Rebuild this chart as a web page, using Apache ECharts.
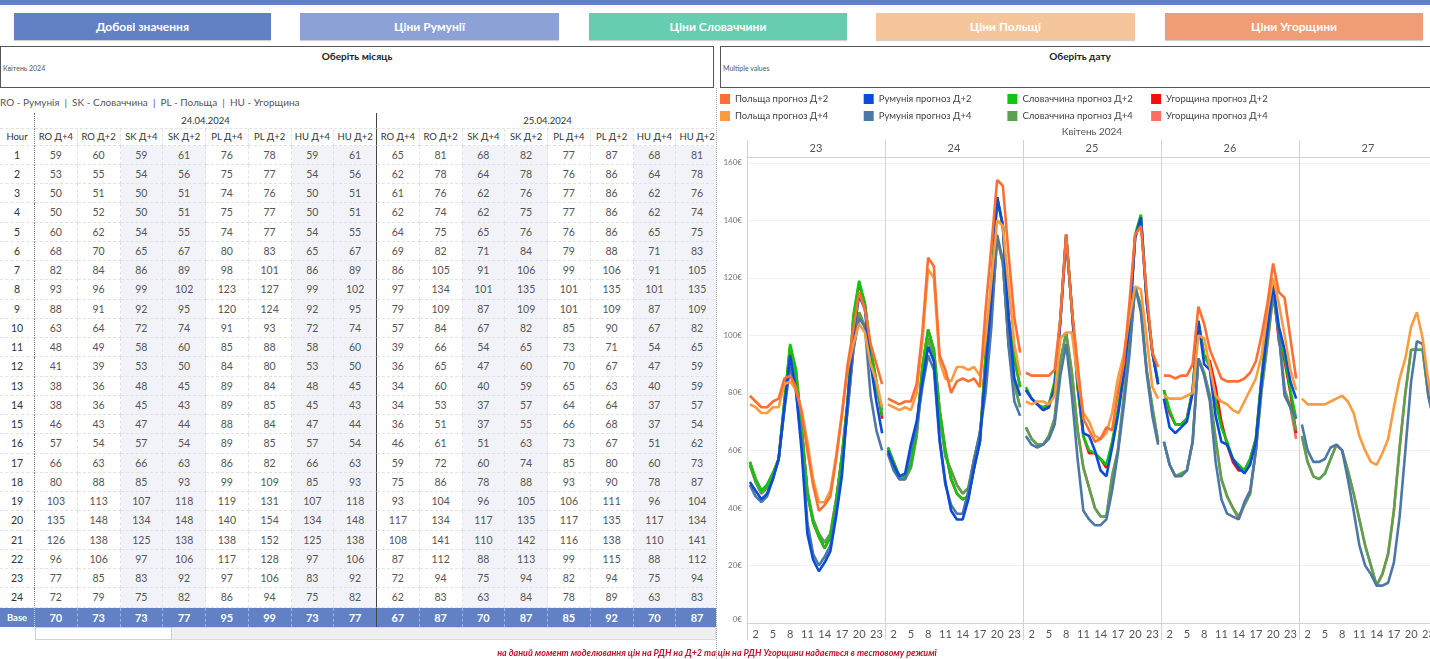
<!DOCTYPE html>
<html lang="uk">
<head>
<meta charset="utf-8">
<title>Прогноз цін РДН</title>
<script src="https://cdn.jsdelivr.net/npm/echarts@6/dist/echarts.min.js"></script>
<style>
  html, body { margin: 0; padding: 0; }
  body { width: 1430px; height: 659px; overflow: hidden; position: relative; background: #fff;
         font-family: Lato, 'Noto Sans', sans-serif; }
  .abs { position: absolute; }
  .topbar { left: 0; top: 0; width: 1430px; height: 5px; background: #6280C4; }
  .btn { top: 13px; height: 27px; line-height: 27px; color: #fff; font-size: 12px; font-weight: 700;
         text-align: center; box-shadow: 0 1px 1px rgba(0,0,0,.18); }
  .filter { top: 46px; height: 42px; border: 1.5px solid #555; box-sizing: border-box; }
  .filter .ttl { position: absolute; left: 0; right: 0; top: 3px; text-align: center; font-size: 10px; font-weight: 700; color: #222; }
  .filter .val { position: absolute; left: 2px; top: 17px; font-size: 7px; color: #555; }
  .abbr { left: 0; top: 96px; font-size: 10px; color: #555; white-space: nowrap; }
  #tbl { left: 0; top: 113px; width: 716px; height: 530px; overflow: hidden; }
  #tbl .c { position: absolute; box-sizing: border-box; display: flex; align-items: center; justify-content: center;
            border-right: 1px dashed #e2e2e2; border-bottom: 1px dashed #e2e2e2; font-size: 10.5px; color: #555; white-space: nowrap; }
  #tbl .hd { color: #333; font-size: 9.5px; }
  #tbl .hr { border-right: 1px dotted #777; color: #333; }
  #tbl .sh { background: #F2F3F9; }
  #tbl .sep { border-right: 1.5px solid #444; }
  #tbl .base { background: #6280C4; color: #fff; font-weight: 700; font-size: 11px; border-right: 1px dashed #9fb1dd; border-bottom: none; }
  #tbl .base.hr { font-size: 9.5px; border-right: 1px dotted #ccd6ee; }
  #tbl .base.sep { border-right: 1.5px solid #444; }
  .track { left: 35px; top: 627px; width: 681px; height: 13px; background: #efefef; border: 1px solid #dadada; box-sizing: border-box; }
  .thumb { left: 35px; top: 627px; width: 137px; height: 13px; background: #fff; border: 1px solid #d0d0d0; box-sizing: border-box; }
  .divider { left: 716px; top: 88px; height: 571px; border-left: 1px dotted #aaa; }
  #chart { left: 718px; top: 88px; width: 722px; height: 571px; }
  .note { left: 0; top: 647px; width: 1434px; text-align: center; font-size: 9px; font-style: italic; font-weight: 700; color: #C8102E; }
</style>
</head>
<body>
<div class="abs topbar"></div>
<div class="abs btn" style="left:14px;width:257px;background:#6280C4">Добові значення</div>
<div class="abs btn" style="left:300px;width:259px;background:#8CA2D6">Ціни Румунії</div>
<div class="abs btn" style="left:589px;width:258px;background:#66CDB1">Ціни Словаччини</div>
<div class="abs btn" style="left:876px;width:259px;background:#F5C69B">Ціни Польщі</div>
<div class="abs btn" style="left:1165px;width:258px;background:#F09D75">Ціни Угорщини</div>

<div class="abs filter" style="left:0;width:714px"><div class="ttl">Оберіть місяць</div><div class="val">Квітень 2024</div></div>
<div class="abs filter" style="left:720px;width:720px"><div class="ttl">Оберіть дату</div><div class="val">Multiple values</div></div>

<div class="abs abbr">RO - Румунія &nbsp;|&nbsp; SK - Словаччина &nbsp;|&nbsp; PL - Польща &nbsp;|&nbsp; HU - Угорщина</div>
<div class="abs" id="tbl"></div>
<div class="abs track"></div>
<div class="abs thumb"></div>
<div class="abs divider"></div>
<div class="abs" id="chart"></div>
<div class="abs note">на даний момент моделювання цін на РДН на Д+2 та цін на РДН Угорщини надається в тестовому режимі</div>

<script>
// days shown in the chart panels; each series holds one 24-hour row per day
const DAYS = ['23', '24', '25', '26', '27'];
const HOURS = ['1','2','3','4','5','6','7','8','9','10','11','12','13','14','15','16','17','18','19','20','21','22','23','24'];

const PL_D2 = [
  [79,77,75,75,77,78,85,86,82,73,60,48,39,41,44,57,72,90,102,115,109,97,90,83],
  [78,77,76,77,77,83,101,127,124,93,88,80,84,85,84,85,82,109,131,154,152,128,106,94],
  [87,86,86,86,86,88,106,135,109,90,71,67,63,64,68,67,80,90,111,135,138,115,94,89],
  [86,86,85,86,86,90,110,104,95,90,85,84,84,84,85,87,91,100,111,125,115,113,99,85],
  [],
];
const PL_D4 = [
  [76,75,73,73,75,75,83,84,81,74,63,50,42,42,46,58,73,88,97,104,101,90,84,75],
  [76,75,74,75,74,80,98,123,120,91,85,84,89,89,88,89,86,99,119,140,138,117,97,86],
  [77,76,77,77,76,79,99,101,101,85,73,70,65,64,66,73,85,93,106,117,116,99,82,78],
  [79,78,78,78,79,80,100,99,89,79,77,76,74,73,77,81,85,93,108,120,111,100,88,81],
  [78,76,76,76,76,77,78,79,77,73,65,60,56,55,59,64,75,85,92,103,108,99,84,74],
];
const RO_D2 = [
  [49,46,43,45,50,57,75,93,81,60,31,22,18,21,25,37,51,77,100,114,109,90,77,66],
  [60,55,51,52,62,70,84,96,91,64,49,39,36,36,43,54,63,88,113,148,138,106,85,79],
  [81,78,76,74,75,82,105,134,109,84,66,65,60,53,51,61,72,86,104,134,141,112,94,83],
  [78,68,66,68,70,80,105,90,88,72,63,62,57,54,52,55,63,84,102,118,103,95,84,78],
  [],
];
const RO_D4 = [
  [48,44,42,44,50,57,74,89,81,63,35,24,20,23,27,39,53,75,95,106,103,79,67,60],
  [59,53,50,50,60,68,82,93,88,63,48,41,38,38,46,57,66,80,103,135,126,96,77,72],
  [65,62,61,62,64,69,86,97,79,57,39,36,34,34,36,46,59,75,93,117,108,87,72,62],
  [63,55,51,51,53,63,92,86,77,56,43,38,37,36,42,46,60,84,100,116,100,79,75,71],
  [69,60,56,56,57,61,62,60,50,39,27,20,17,13,13,14,21,37,60,84,98,97,79,70],
];
const SK_D2 = [
  [56,50,46,48,52,57,77,97,88,68,45,35,30,26,30,42,58,77,107,119,111,95,84,72],
  [61,56,51,51,55,67,89,102,95,74,60,50,45,43,44,54,63,93,118,148,138,106,92,82],
  [82,78,76,75,76,84,106,135,109,82,65,60,59,57,55,63,74,88,105,135,142,113,94,84],
  [81,74,69,69,71,81,105,93,89,77,68,63,57,55,53,57,64,86,104,117,100,93,81,71],
  [],
];
const SK_D4 = [
  [55,49,45,47,51,57,75,93,86,67,46,36,31,28,31,43,57,74,95,108,103,90,81,74],
  [59,54,50,50,54,65,86,99,92,72,58,53,48,45,47,57,66,85,107,134,125,97,83,75],
  [68,64,62,62,65,71,91,101,87,67,54,47,40,37,37,51,60,78,96,117,110,88,75,63],
  [63,55,51,52,53,63,92,87,79,64,50,44,40,37,41,45,60,81,97,114,101,81,75,67],
  [65,56,51,50,52,57,62,60,53,45,36,27,20,13,17,24,39,61,80,95,95,95,79,70],
];
const HU_D2 = [
  [56,50,46,48,52,57,77,96,88,68,45,35,30,26,30,42,58,77,106,118,111,95,84,71],
  [61,56,51,51,55,67,89,102,95,74,60,50,45,43,44,54,63,93,118,148,138,106,92,82],
  [81,78,76,74,75,83,105,135,109,82,65,59,59,57,54,62,73,87,104,134,141,112,94,83],
  [81,73,69,69,71,81,105,93,91,82,70,62,56,53,53,57,64,85,104,117,98,91,80,66],
  [],
];
const HU_D4 = [
  [55,49,45,47,51,57,75,93,86,67,46,36,31,28,31,43,57,74,95,108,103,90,81,74],
  [59,54,50,50,54,65,86,99,92,72,58,53,48,45,47,57,66,85,107,134,125,97,83,75],
  [68,64,62,62,65,71,91,101,87,67,54,47,40,37,37,51,60,78,96,117,110,88,75,63],
  [63,55,51,52,53,63,92,87,79,64,50,44,40,36,41,45,60,81,97,114,101,81,75,64],
  [65,56,51,50,52,57,62,60,53,45,36,27,20,13,17,24,39,61,80,95,95,95,79,70],
];

// table: two dates, daily base values per column
const TABLE_DATES = ['24.04.2024', '25.04.2024'];
const TABLE_DAY_INDEX = [1, 2];
const TABLE_COLS = ['RO Д+4', 'RO Д+2', 'SK Д+4', 'SK Д+2', 'PL Д+4', 'PL Д+2', 'HU Д+4', 'HU Д+2'];
const TABLE_SOURCES = [RO_D4, RO_D2, SK_D4, SK_D2, PL_D4, PL_D2, HU_D4, HU_D2];
const BASE_24 = [70, 73, 73, 77, 95, 99, 73, 77];
const BASE_25 = [67, 87, 70, 87, 85, 92, 70, 87];
const TABLE_BASE = [BASE_24, BASE_25];

// series in draw order (last on top)
const SERIES = [
  { name: 'Угорщина прогноз Д+4', data: HU_D4 },
  { name: 'Угорщина прогноз Д+2', data: HU_D2 },
  { name: 'Словаччина прогноз Д+4', data: SK_D4 },
  { name: 'Словаччина прогноз Д+2', data: SK_D2 },
  { name: 'Румунія прогноз Д+4', data: RO_D4 },
  { name: 'Румунія прогноз Д+2', data: RO_D2 },
  { name: 'Польща прогноз Д+4', data: PL_D4 },
  { name: 'Польща прогноз Д+2', data: PL_D2 },
];
const COLORS = {
  'Польща прогноз Д+2': '#FF6E33',
  'Польща прогноз Д+4': '#F99B3E',
  'Румунія прогноз Д+2': '#0B4BD9',
  'Румунія прогноз Д+4': '#4C78A8',
  'Словаччина прогноз Д+2': '#12C412',
  'Словаччина прогноз Д+4': '#5AA150',
  'Угорщина прогноз Д+2': '#FF0A0A',
  'Угорщина прогноз Д+4': '#FF6F61',
};
const LEGEND_COLUMNS = [
  ['Польща прогноз Д+2', 'Польща прогноз Д+4'],
  ['Румунія прогноз Д+2', 'Румунія прогноз Д+4'],
  ['Словаччина прогноз Д+2', 'Словаччина прогноз Д+4'],
  ['Угорщина прогноз Д+2', 'Угорщина прогноз Д+4'],
];

// ---- table ----
const tbl = document.getElementById('tbl');
const HOUR_W = 35, COL_W = 42.75, DATE_H = 16, HEAD_H = 16.5, ROW_H = 19.25, BASE_H = 19;

function cell(x, y, w, h, text, cls) {
  const d = document.createElement('div');
  d.className = 'c ' + (cls || '');
  d.style.cssText = `left:${x}px;top:${y}px;width:${w}px;height:${h}px`;
  d.textContent = text;
  tbl.appendChild(d);
}

const headY = DATE_H, bodyY = DATE_H + HEAD_H, baseY = bodyY + HOURS.length * ROW_H;
cell(0, 0, HOUR_W, DATE_H, '', 'hr');
cell(0, headY, HOUR_W, HEAD_H, 'Hour', 'hr hd');
HOURS.forEach((h, r) => cell(0, bodyY + r * ROW_H, HOUR_W, ROW_H, h, 'hr'));
cell(0, baseY, HOUR_W, BASE_H, 'Base', 'hr base');

TABLE_DATES.forEach((date, k) => {
  const x0 = HOUR_W + k * 8 * COL_W;
  cell(x0, 0, 8 * COL_W, DATE_H, date, 'hd' + (k === 0 ? ' sep' : ''));
  TABLE_COLS.forEach((lab, j) => {
    const x = x0 + j * COL_W;
    const sep = (k === 0 && j === 7) ? ' sep' : '';
    const sh = (j === 2 || j === 3 || j === 6 || j === 7) ? ' sh' : '';
    cell(x, headY, COL_W, HEAD_H, lab, 'hd' + sep);
    const src = TABLE_SOURCES[j][TABLE_DAY_INDEX[k]];
    src.forEach((v, r) => cell(x, bodyY + r * ROW_H, COL_W, ROW_H, v, sh + sep));
    cell(x, baseY, COL_W, BASE_H, TABLE_BASE[k][j], 'base' + sep);
  });
});

// ---- chart ----
const FONT = "Lato, 'Noto Sans', sans-serif";
const PANEL_LEFT = 29, PANEL_W = 138, PLOT_TOP = 69, PLOT_H = 466;
const GRID_LINE = '#d2d2d2';

const grid = DAYS.map((d, i) => ({ left: PANEL_LEFT + i * PANEL_W, width: PANEL_W, top: PLOT_TOP, height: PLOT_H }));

const xAxis = [];
DAYS.forEach((d, i) => xAxis.push({
  gridIndex: i, type: 'category', data: HOURS, boundaryGap: true, position: 'bottom',
  axisLine: { lineStyle: { color: GRID_LINE } },
  axisTick: { show: false },
  axisLabel: { interval: idx => idx % 3 === 1, color: '#555', fontSize: 11, margin: 6, fontFamily: FONT },
}));
DAYS.forEach((d, i) => xAxis.push({
  gridIndex: i, type: 'category', data: [d], position: 'top',
  axisLine: { lineStyle: { color: GRID_LINE } },
  axisTick: { show: true, length: 17, lineStyle: { color: GRID_LINE } },
  axisLabel: { color: '#555', fontSize: 11, margin: 3, fontFamily: FONT },
}));
DAYS.forEach((d, i) => xAxis.push({
  gridIndex: i, type: 'category', data: [''], position: 'bottom',
  axisLine: { show: false },
  axisTick: { show: true, length: 17, lineStyle: { color: GRID_LINE } },
  axisLabel: { show: false },
}));

const yAxis = DAYS.map((d, i) => ({
  gridIndex: i, type: 'value', min: 0, max: 162, interval: 20,
  axisLine: { show: true, lineStyle: { color: GRID_LINE } },
  axisTick: { show: false },
  splitLine: { lineStyle: { color: '#f1f1f1' } },
  axisLabel: {
    show: i === 0, formatter: '{value}€', fontSize: 8, color: '#777', margin: 5, fontFamily: FONT,
    showMaxLabel: false, verticalAlignMinLabel: 'bottom',
  },
}));

const series = [];
DAYS.forEach((d, i) => {
  SERIES.forEach(s => {
    const values = s.data[i];
    if (!values.length) return;
    series.push({
      name: s.name, type: 'line', xAxisIndex: i, yAxisIndex: i,
      data: values, symbol: 'none', showSymbol: false,
      lineStyle: { width: 2.6, color: COLORS[s.name] },
      itemStyle: { color: COLORS[s.name] },
      emphasis: { disabled: true },
    });
  });
});

const legend = LEGEND_COLUMNS.map((names, i) => ({
  data: names, orient: 'vertical', left: 2 + i * 143.7, top: 6, padding: 0,
  icon: 'rect', itemWidth: 10, itemHeight: 10, itemGap: 7,
  textStyle: { fontSize: 9.5, color: '#444', fontFamily: FONT },
}));

const chart = echarts.init(document.getElementById('chart'), null, { renderer: 'canvas' });
chart.setOption({
  animation: false,
  textStyle: { fontFamily: FONT },
  title: {
    text: 'Квітень 2024', left: PANEL_LEFT + DAYS.length * PANEL_W / 2, top: 39, textAlign: 'center', padding: 0,
    textStyle: { fontSize: 10, fontWeight: 'normal', color: '#555', fontFamily: FONT },
  },
  tooltip: { trigger: 'axis', textStyle: { fontSize: 11 } },
  legend,
  grid,
  xAxis,
  yAxis,
  series,
});
</script>
</body>
</html>
